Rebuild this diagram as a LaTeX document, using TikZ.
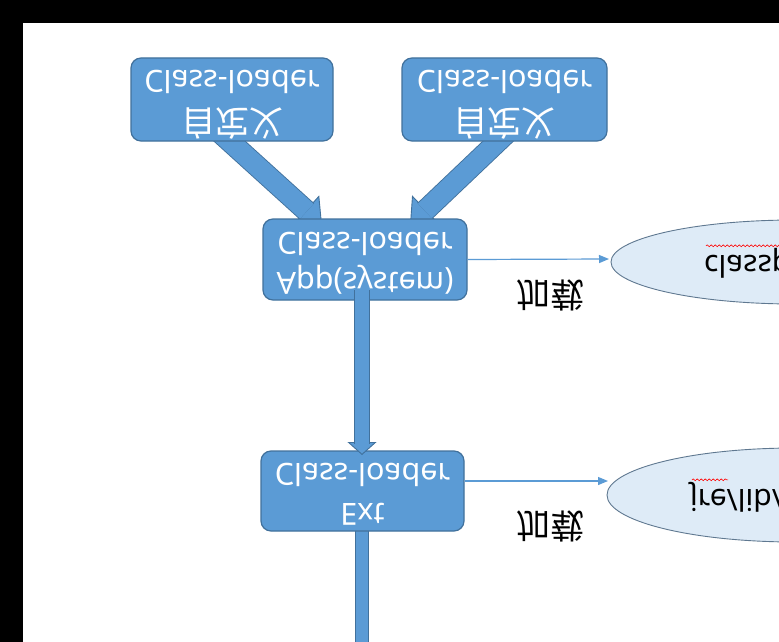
\documentclass[tikz,border=0pt]{standalone}
\usepackage{fontspec}
\setmainfont{Noto Sans}
\newfontfamily\cjk{Noto Sans CJK SC}
\usetikzlibrary{arrows.meta,decorations.pathmorphing,calc,shapes.geometric}
\definecolor{nodefill}{HTML}{5B9BD5}
\definecolor{nodeline}{HTML}{41719C}
\definecolor{ellfill}{HTML}{DEEBF7}
\definecolor{ellline}{HTML}{5F7890}
\newcommand{\flipv}[1]{\scalebox{1}[-1]{#1}}
\newcommand{\fatarrow}[5]{%
  \draw[draw=nodeline, line width=0.9pt, -{Triangle[length=#5,width=#4,fill=nodefill,line width=0.9pt]}] ($(#1)!0.97!(#2)$) -- (#2);
  \draw[draw=nodeline, line width=0.9pt, double=nodefill, double distance=#3, shorten >=#5-1.5pt] (#1) -- (#2);
}
\begin{document}
\begin{tikzpicture}[x=1pt,y=-1pt,
  loader/.style={rectangle, rounded corners=10pt, fill=nodefill, draw=nodeline, line width=1.2pt,
    text=white, font=\fontsize{30.5}{36}\selectfont, inner sep=0pt},
  ellnode/.style={ellipse, fill=ellfill, draw=ellline, line width=0.9pt, inner sep=0pt},
  thinarrow/.style={draw=nodefill, line width=1.2pt, -{Triangle[length=10pt,width=8pt]}},
  lbl/.style={font=\cjk\fontsize{34}{38}\selectfont, inner sep=0pt},
  elltext/.style={font=\fontsize{30}{34}\selectfont, inner sep=0pt, anchor=west},
  squiggle/.style={draw=red, line width=0.6pt, decorate, decoration={snake, amplitude=0.9pt, segment length=4pt}}
]
\useasboundingbox (0,0) rectangle (779,642);
\clip (0,0) rectangle (779,642);
\fill[white] (0,0) rectangle (779,642);
\fill[black] (0,0) rectangle (779,23);
\fill[black] (0,0) rectangle (23,642);

% ellipses
\node[ellnode, minimum width=368pt, minimum height=84pt] (e1) at (795,262) {};
\node[ellnode, minimum width=376pt, minimum height=94pt] (e2) at (795,495) {};
\node[elltext] (t1) at (704,263) {\flipv{classpath}};
\node[elltext] (t2) at (690,497) {\flipv{jre/lib/ext}};
\draw[squiggle] ($(t1.north west)+(2,-2)$) -- ($(t1.north east)+(0,-2)$);
\draw[squiggle] ($(t2.north west)+(2,-2)$) -- ++(36,0);

% coordinates for arrows
\coordinate (a1) at (215,128);
\coordinate (h1) at (322,225);
\coordinate (a2) at (512,128);
\coordinate (h2) at (410,225);
\coordinate (v1) at (362,290);
\coordinate (v2) at (362,455);
\coordinate (v3) at (362,520);
\coordinate (v4) at (362,660);
\coordinate (p1) at (609,259);
\coordinate (p2) at (608,481);

% fat arrows (under nodes)
\fatarrow{a1}{h1}{20pt}{40pt}{22pt}
\fatarrow{a2}{h2}{20pt}{40pt}{22pt}
\draw[draw=nodeline, line width=0.9pt, double=nodefill, double distance=12.5pt] (v3) -- (v4);

% nodes
\node[loader, minimum width=202pt, minimum height=83pt] (c1) at (232,99.5)
  {\flipv{\begin{tabular}{@{}c@{}}{\cjk\fontsize{34}{36}\selectfont 自定义}\\[4pt]Class-loader\end{tabular}}};
\node[loader, minimum width=205pt, minimum height=83pt] (c2) at (504.5,99.5)
  {\flipv{\begin{tabular}{@{}c@{}}{\cjk\fontsize{34}{36}\selectfont 自定义}\\[4pt]Class-loader\end{tabular}}};
\node[loader, minimum width=204pt, minimum height=81pt] (app) at (365,259.5)
  {\flipv{\begin{tabular}{@{}c@{}}App(system)\\[4pt]Class-loader\end{tabular}}};
\node[loader, minimum width=203pt, minimum height=80pt] (ext) at (362.5,491)
  {\flipv{\begin{tabular}{@{}c@{}}Ext\\[4pt]Class-loader\end{tabular}}};

\fatarrow{v1}{v2}{14pt}{29pt}{13pt}

% thin arrows
\draw[thinarrow] (app.east) -- (p1);
\draw[thinarrow] (ext.east |- p2) -- (p2);

% labels
\node[lbl] (l1) at (550,295) {\flipv{加载}};
\node[lbl] (l2) at (550,526) {\flipv{加载}};
\end{tikzpicture}
\end{document}
